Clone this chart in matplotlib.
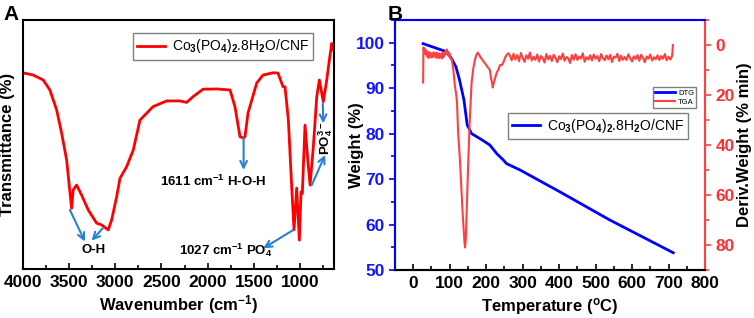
import matplotlib
matplotlib.use('Agg')
import matplotlib.pyplot as plt
from matplotlib.ticker import MultipleLocator

plt.rcParams['font.family'] = ['Liberation Sans', 'DejaVu Sans']
plt.rcParams['font.weight'] = 'bold'
plt.rcParams['mathtext.fontset'] = 'custom'
plt.rcParams['mathtext.rm'] = 'Liberation Sans'
plt.rcParams['mathtext.it'] = 'Liberation Sans:italic'
plt.rcParams['mathtext.bf'] = 'Liberation Sans:bold'

# ---------------- Panel A: FTIR ----------------
wavenumber = [4000, 3886, 3778, 3706, 3633, 3579, 3525, 3471, 3454, 3417, 3363, 3291, 3200,
              3146, 3075, 3038, 2984, 2948, 2876, 2804, 2732, 2591, 2443, 2299, 2227, 2158,
              2050, 1902, 1758, 1704, 1650, 1611, 1596, 1563, 1469, 1401, 1293, 1239, 1185,
              1163, 1127, 1091, 1066, 1037, 1008, 990, 976, 947, 917, 892, 857, 820, 792,
              749, 712, 684, 658, 640]
transmittance = [78.8, 77.9, 75.9, 71.9, 63.9, 54.6, 43.8, 24.4, 31.7, 33.7, 29.7, 23.7, 18.4,
                 17.7, 15.7, 19.7, 29.0, 36.4, 41.1, 47.8, 59.8, 65.2, 67.5, 67.5, 66.9, 69.2,
                 72.2, 72.3, 71.9, 65.1, 53.1, 52.6, 53.1, 62.7, 74.7, 77.9, 78.8, 78.7, 73.2,
                 73.2, 59.8, 33.1, 15.7, 32.5, 11.6, 31.0, 30.4, 57.8, 43.8, 33.7, 49.1, 69.2, 75.9,
                 67.2, 75.9, 83.9, 90.6, 88.0]
ftir_label = 'Co$_3$(PO$_4$)$_2$.8H$_2$O/CNF'

# ---------------- Panel B: TGA / DTG ----------------
temp_w = [27, 92, 105, 117, 126, 133, 139, 148, 160, 183, 210, 229, 247, 256, 293, 402, 539, 713]
weight = [99.8, 98.0, 96.5, 94.7, 92.1, 89.6, 87.4, 81.9, 80.0, 78.9, 77.5, 75.6, 74.2, 73.4,
          72.0, 67.2, 61.0, 53.8]

dtg_temp_a = [27, 28, 30, 32, 34, 36, 38, 40, 42, 44, 46, 48, 50, 52, 54, 56, 58, 60, 62, 64,
              66, 68, 70, 72, 74, 76, 78, 80, 82, 84, 86, 88, 90, 92, 94, 96, 98, 100, 102, 104,
              106, 108, 110, 114, 118, 120, 123, 128, 135, 140, 142, 144, 148, 151, 155, 160,
              165, 169, 173, 177, 181, 185, 190, 195, 200, 205, 210, 213, 216, 218, 221, 225,
              229, 233, 238, 243, 247, 252, 256, 261]
dtg_val_a = [15.0, 1.0, 2.5, 1.5, 3.8, 2.2, 4.5, 3.0, 5.2, 2.8, 4.0, 3.2, 5.0, 3.6, 4.8, 2.9,
             4.4, 3.5, 5.1, 3.0, 4.6, 3.8, 5.3, 3.3, 4.7, 3.9, 5.4, 3.1, 4.9, 3.7, 4.2, 2.6,
             3.4, 1.8, 3.9, 2.7, 4.3, 3.5, 4.8, 5.5,
             6.0, 8.0, 10.0, 16.0, 20.0, 23.0, 35.0, 46.0, 66.0, 78.0, 81.0, 78.0, 59.0, 46.0,
             30.0, 15.0, 9.0, 6.0, 4.0, 3.0, 4.0, 5.0, 6.0, 7.0, 8.0, 9.0, 10.0, 13.0, 15.0,
             17.0, 15.0, 13.0, 11.0, 10.0, 8.0, 8.0, 7.0, 5.0, 4.0, 3.3]
dtg_temp_b = list(range(265, 711, 5)) + [712]
dtg_val_b = [4.2, 6.1, 3.5, 5.8, 4.0, 6.5, 3.2, 5.0, 6.8, 4.1,
             5.5, 3.0, 6.2, 4.7, 5.9, 3.8, 6.6, 4.4, 5.2, 7.0,
             3.6, 5.7, 4.3, 6.4, 3.9, 5.1, 6.9, 4.5, 5.6, 3.4,
             6.3, 4.8, 5.3, 7.2, 4.0, 5.9, 3.7, 6.0, 4.6, 5.4,
             3.3, 6.7, 4.9, 5.8, 4.1, 6.2, 3.8, 5.5, 4.4, 6.5,
             3.6, 5.2, 6.1, 4.2, 5.7, 3.9, 6.8, 4.7, 5.0, 3.5,
             6.4, 4.3, 5.9, 4.8, 6.0, 3.7, 5.3, 6.6, 4.5, 5.6,
             4.0, 6.3, 3.9, 5.1, 6.9, 4.6, 5.4, 3.8, 6.2, 4.9,
             5.7, 4.1, 6.0, 4.4, 5.5, 3.6, 6.1, 4.7, 5.8, 4.3, 0.0]
dtg_temp = dtg_temp_a + dtg_temp_b
dtg_val = dtg_val_a + dtg_val_b

BLUE = '#0000ff'
BLUE_T = '#1414ff'
RED_A = '#ff0000'
RED_B = '#ff4040'
RED_T = '#ff3030'
ARROW = '#2a7fd4'
TICK_FS = 12.5
LAB_FS = 12

fig = plt.figure(figsize=(7.54, 3.18), dpi=100)

# ---------- Panel A ----------
axA = fig.add_axes([0.0301, 0.1541, 0.4133, 0.7830])
lineA, = axA.plot(wavenumber, transmittance, color=RED_A, lw=2.0, label=ftir_label)
axA.set_xlim(4000, 630)
axA.set_ylim(0, 100)
axA.set_yticks([])
axA.xaxis.set_major_locator(MultipleLocator(500))
axA.xaxis.set_minor_locator(MultipleLocator(250))
axA.tick_params(axis='x', which='major', direction='in', length=4, width=1.2, labelsize=TICK_FS, pad=4)
axA.tick_params(axis='x', which='minor', direction='in', length=3, width=1.2)
for s in axA.spines.values():
    s.set_linewidth(1.5)
axA.set_xlabel('Wavenumber (cm$^{\\mathbf{-1}}$)', fontsize=LAB_FS, fontweight='bold', va='center')
axA.xaxis.set_label_coords(0.5, -0.142)
axA.set_ylabel('Transmittance (%)', fontsize=LAB_FS, fontweight='bold', va='center')
axA.yaxis.set_label_coords(-0.048, 0.5)
axA.legend(handles=[lineA], loc='upper left', bbox_to_anchor=(0.1768, 0.8953),
           bbox_transform=fig.transFigure, prop={'size': 10, 'weight': 'normal'},
           fancybox=False, edgecolor='#808080', framealpha=1, borderaxespad=0,
           borderpad=0.3, handlelength=2.0, handletextpad=0.5)

arrow_kw = dict(arrowstyle='->', color=ARROW, lw=1.5, mutation_scale=12, shrinkA=0, shrinkB=0)
axA.annotate('', xy=(3327, 11.0), xytext=(3489, 23.7), arrowprops=arrow_kw)
axA.annotate('', xy=(3255, 11.4), xytext=(3135, 16.3), arrowprops=arrow_kw)
axA.text(3237, 7.6, 'O-H', ha='center', va='center', fontsize=9.5, fontweight='bold')
axA.annotate('', xy=(1611, 39.8), xytext=(1611, 52.6), arrowprops=arrow_kw)
axA.text(1939, 35.1, '1611 cm$^{\\mathbf{-1}}$ H-O-H', ha='center', va='center', fontsize=9.5,
         fontweight='bold')
axA.annotate('', xy=(1398, 8.3), xytext=(1073, 15.7), arrowprops=arrow_kw)
axA.text(1800, 7.6, '1027 cm$^{\\mathbf{-1}}$ PO$_{\\mathbf{4}}$', ha='center', va='center',
         fontsize=9.5, fontweight='bold')
axA.annotate('', xy=(749, 58.5), xytext=(755, 66.5), arrowprops=arrow_kw)
axA.annotate('', xy=(730, 45.8), xytext=(874, 33.7), arrowprops=arrow_kw)
axA.text(728, 52.5, 'PO$_{\\mathbf{4}}^{\\mathbf{3-}}$', ha='center', va='center', rotation=90,
         fontsize=9.5, fontweight='bold')

fig.text(0.004, 0.985, 'A', ha='left', va='top', fontsize=15, fontweight='bold')
fig.text(0.514, 0.985, 'B', ha='left', va='top', fontsize=15, fontweight='bold')

# ---------- Panel B ----------
axB = fig.add_axes([0.5239, 0.1509, 0.4111, 0.7862])
lineW, = axB.plot(temp_w, weight, color=BLUE, lw=2.0)
axB.set_xlim(-50, 800)
axB.set_ylim(50, 105)
axB2 = axB.twinx()
lineD, = axB2.plot(dtg_temp, dtg_val, color=RED_B, lw=1.5)
axB2.set_ylim(90, -10)

axB.xaxis.set_major_locator(MultipleLocator(100))
axB.xaxis.set_minor_locator(MultipleLocator(50))
axB.yaxis.set_major_locator(MultipleLocator(10))
axB.yaxis.set_minor_locator(MultipleLocator(5))
axB2.yaxis.set_major_locator(MultipleLocator(20))
axB2.yaxis.set_minor_locator(MultipleLocator(10))

axB.tick_params(axis='x', which='major', direction='in', length=4, width=1.2, labelsize=TICK_FS, pad=4)
axB.tick_params(axis='x', which='minor', direction='in', length=3, width=1.2)
axB.tick_params(axis='y', which='major', direction='out', length=4, width=1.2, labelsize=TICK_FS,
                color=BLUE, labelcolor=BLUE_T)
axB.tick_params(axis='y', which='minor', direction='out', length=3, width=1.2, color=BLUE)
axB2.tick_params(axis='y', which='major', direction='out', length=4, width=1.2, labelsize=TICK_FS,
                 color=RED_B, labelcolor=RED_T)
axB2.tick_params(axis='y', which='minor', direction='out', length=3, width=1.2, color=RED_B)

for ax in (axB, axB2):
    for s in ax.spines.values():
        s.set_linewidth(1.5)
    ax.spines['left'].set_color(BLUE)
    ax.spines['top'].set_color(BLUE)
    ax.spines['right'].set_color(RED_B)
    ax.spines['bottom'].set_color('black')

axB.set_xlabel('Temperature ($^{\\mathbf{o}}$C)', fontsize=LAB_FS, fontweight='bold', va='center')
axB.xaxis.set_label_coords(0.5, -0.145)
axB.set_ylabel('Weight (%)', fontsize=LAB_FS, fontweight='bold', va='center')
axB.yaxis.set_label_coords(-0.123, 0.5)
axB2.set_ylabel('Deriv.Weight (% min)', fontsize=LAB_FS, fontweight='bold', va='center')
axB2.yaxis.set_label_coords(1.129, 0.5)

leg_small = axB2.legend(handles=[lineW, lineD], labels=['DTG', 'TGA'], loc='upper left',
                        bbox_to_anchor=(0.8657, 0.7264), bbox_transform=fig.transFigure,
                        prop={'size': 5.5, 'weight': 'normal'}, fancybox=False,
                        edgecolor='#808080', framealpha=1, borderaxespad=0, borderpad=0.3,
                        handlelength=2.6, handletextpad=0.4, labelspacing=0.2)
axB2.add_artist(leg_small)
axB2.legend(handles=[lineW], labels=[ftir_label], loc='upper left',
            bbox_to_anchor=(0.6733, 0.6447), bbox_transform=fig.transFigure,
            prop={'size': 10, 'weight': 'normal'}, fancybox=False, edgecolor='#808080',
            framealpha=1, borderaxespad=0, borderpad=0.3, handlelength=2.0, handletextpad=0.5)

fig.savefig('out.png', dpi=100)
